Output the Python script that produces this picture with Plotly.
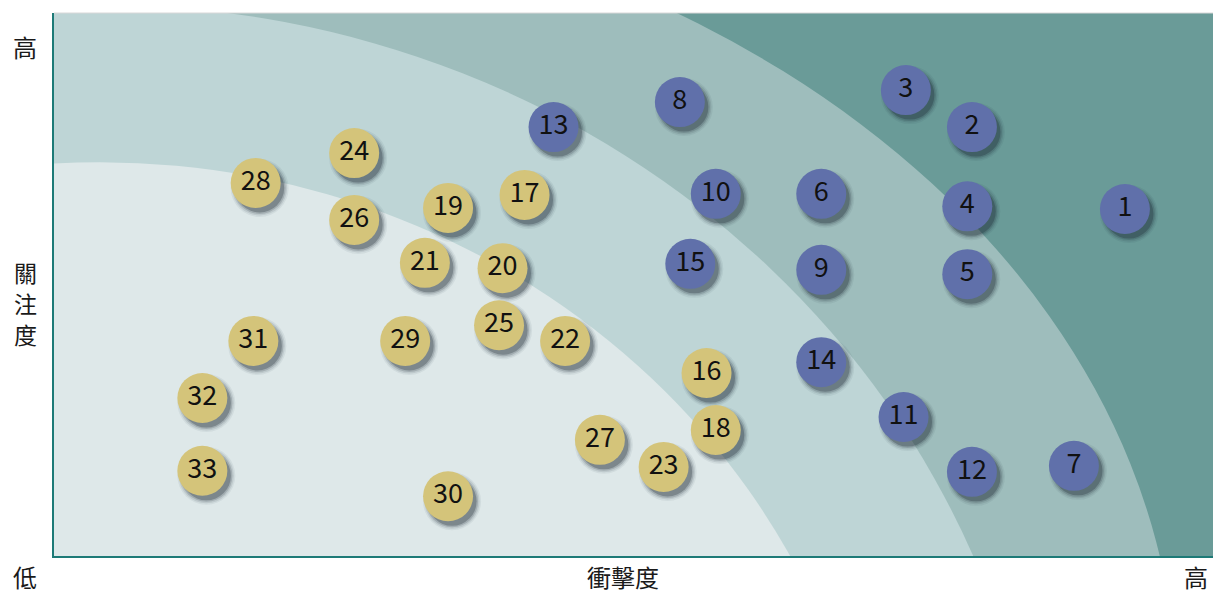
import plotly.graph_objects as go

# ---- data ----
issue_ids = list(range(1, 34))
impact = [92.4, 79.2, 73.5, 78.8, 78.8, 66.2, 88.0, 54.0, 66.2, 57.1, 73.3,
          79.2, 43.1, 66.2, 54.9, 56.3, 40.6, 57.1, 34.0, 38.7, 32.0, 44.1,
          52.6, 25.9, 38.4, 25.9, 47.1, 17.4, 30.3, 34.0, 17.2, 12.8, 12.8]
concern = [63.9, 79.0, 85.8, 64.4, 51.9, 66.7, 16.6, 83.6, 52.7, 66.7, 25.6,
           15.5, 79.0, 35.7, 53.8, 33.7, 66.5, 23.2, 64.1, 53.0, 54.0, 39.6,
           16.4, 74.2, 42.5, 61.9, 21.4, 68.7, 39.6, 11.0, 39.6, 29.1, 15.7]
major_ids = list(range(1, 16))   # blue
minor_ids = list(range(16, 34))  # yellow

# background bands: (center x, center y, radius x, radius y, colour)
bands = [
    (3.97, -26.5, 92.9, 149.8, "#9ebdbc"),
    (3.97, -63.3, 81.6, 164.8, "#bed5d6"),
    (3.97, -63.3, 67.3, 135.8, "#dee8e9"),
]

W, H = 1213, 595
ML, MR, MT, MB = 54, 0, 13, 39
PW, PH = W - ML - MR, H - MT - MB
XR, YR = (0, 100), (0, 100)
px_x = (XR[1] - XR[0]) / PW
px_y = (YR[1] - YR[0]) / PH

FONT = "Noto Sans CJK TC"
BLUE = "#6070aa"
YELLOW = "#d4c47a"

fig = go.Figure()

def subset(ids):
    xs = [impact[i - 1] for i in ids]
    ys = [concern[i - 1] for i in ids]
    return xs, ys

# soft drop shadows
allx, ally = subset(issue_ids)
for size, alpha in [(58, 0.06), (55, 0.10), (52, 0.17), (49, 0.28)]:
    fig.add_trace(go.Scatter(
        x=[v + 4 * px_x for v in allx], y=[v - 5 * px_y for v in ally],
        mode="markers", hoverinfo="skip", showlegend=False,
        marker=dict(size=size, color=f"rgba(25,35,45,{alpha})", line=dict(width=0)),
    ))

for ids, col in [(major_ids, BLUE), (minor_ids, YELLOW)]:
    xs, ys = subset(ids)
    fig.add_trace(go.Scatter(
        x=xs, y=ys, mode="markers+text", text=[str(i) for i in ids],
        textposition="middle center",
        textfont=dict(family=FONT, size=27, color="#111111"),
        marker=dict(size=50, color=col, line=dict(width=0)),
        showlegend=False, hoverinfo="skip", cliponaxis=False,
    ))

shapes = []
for cx, cy, rx, ry, col in bands:
    shapes.append(dict(type="circle", xref="x", yref="y", layer="below",
                       x0=cx - rx, x1=cx + rx, y0=cy - ry, y1=cy + ry,
                       fillcolor=col, line=dict(width=0)))
shapes.append(dict(type="line", xref="paper", yref="paper", x0=0, x1=1, y0=1, y1=1,
                   line=dict(color="#d8d8d8", width=1)))

def ann(text, xp, yp, size=24):
    # xp, yp: window pixel position of the label centre
    return dict(text=text, xref="paper", yref="paper", showarrow=False,
                x=(xp - ML) / PW, y=(MT + PH - yp) / PH,
                xanchor="center", yanchor="middle",
                font=dict(family=FONT, size=size, color="#1a1a1a"))

annotations = [
    ann("高", 25, 47),
    ann("關", 25, 272, 23),
    ann("注", 25, 303, 23),
    ann("度", 25, 334, 23),
    ann("低", 25, 576),
    ann("衝擊度", 623, 576),
    ann("高", 1196, 576),
]

axis_common = dict(showgrid=False, zeroline=False, showticklabels=False, ticks="",
                   showline=True, linecolor="#1d7a77", linewidth=2, fixedrange=True)
fig.update_layout(
    width=W, height=H,
    margin=dict(l=ML, r=MR, t=MT, b=MB, pad=0),
    paper_bgcolor="white", plot_bgcolor="#6a9b98",
    xaxis=dict(range=list(XR), **axis_common),
    yaxis=dict(range=list(YR), **axis_common),
    shapes=shapes, annotations=annotations,
    font=dict(family=FONT),
)

fig.write_html(
    "out.html",
    config={"displayModeBar": False},
    post_script="document.body.style.margin='0';document.body.style.overflow='hidden';",
)
